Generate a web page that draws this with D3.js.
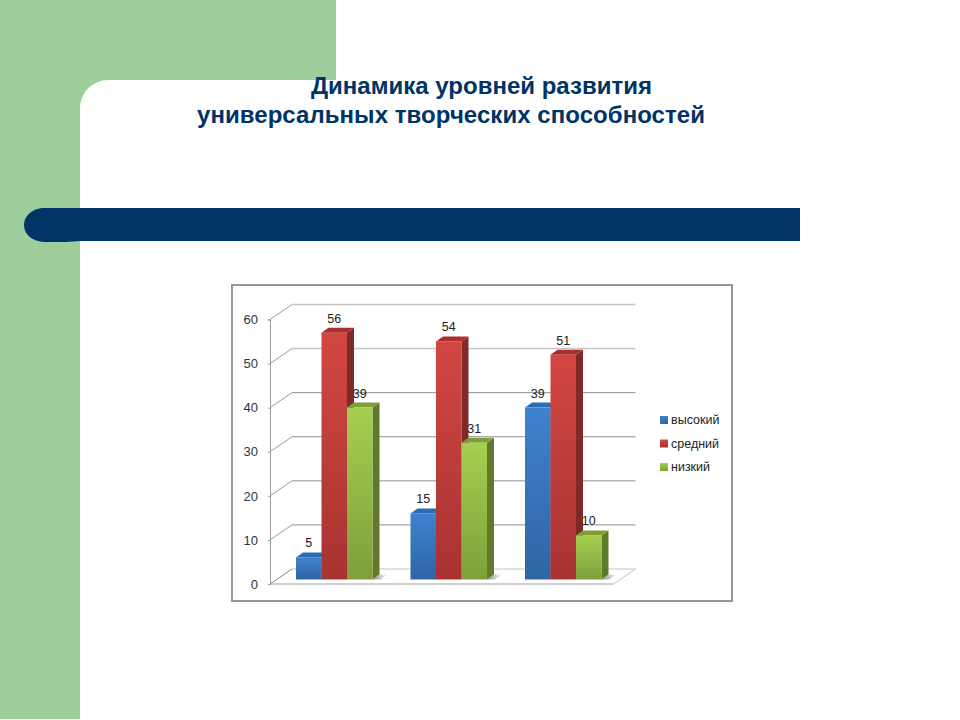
<!DOCTYPE html>
<html>
<head>
<meta charset="utf-8">
<script src="https://cdn.jsdelivr.net/npm/d3@7.9.0/dist/d3.min.js"></script>
<style>
    html, body { margin: 0; padding: 0; background: #fff; }
    svg { display: block; }
    text { font-family: "Liberation Sans", Arial, sans-serif; }
</style>
</head>
<body>
<svg id="slide" width="960" height="720"></svg>
<script>
const groups = ['g1', 'g2', 'g3'];
const seriesNames = ['высокий', 'средний', 'низкий'];
const high = [5, 15, 39];
const medium = [56, 54, 51];
const low = [39, 31, 10];
const yTicks = [0, 10, 20, 30, 40, 50, 60];
const titleLines = ['Динамика уровней развития', 'универсальных творческих способностей'];

const seriesValues = [high, medium, low];
const colors = [
    { top: '#3f82cf', bottom: '#2f65a3', side: '#24508a', cap: '#2c6cb5' },
    { top: '#d24643', bottom: '#a73331', side: '#7f2a28', cap: '#a92e2c' },
    { top: '#a5cf4f', bottom: '#7f9f3a', side: '#5f7a2c', cap: '#7f9f36' }
];

const svg = d3.select('#slide');
const defs = svg.append('defs');

// slide background
svg.append('rect').attr('x', 0).attr('y', 0).attr('width', 80).attr('height', 719).attr('fill', '#9dce9c');
svg.append('rect').attr('x', 0).attr('y', 0).attr('width', 336).attr('height', 80).attr('fill', '#9dce9c');
svg.append('path').attr('d', 'M80,80 H108 A28,28 0 0 0 80,108 Z').attr('fill', '#9dce9c');

svg.append('path')
    .attr('d', 'M800,208 H42 C32,209 24,216 24,225 C24,235 33,242 46,242 H66 L80,241 H800 Z')
    .attr('fill', '#003366');

// title
svg.selectAll('text.title')
    .data(titleLines)
    .join('text')
    .attr('class', 'title')
    .attr('x', (d, i) => i === 0 ? 311 : 197)
    .attr('y', (d, i) => i === 0 ? 94 : 123)
    .attr('textLength', (d, i) => i === 0 ? 341 : 508)
    .attr('font-size', 24)
    .attr('font-weight', 'bold')
    .attr('fill', '#003366')
    .text(d => d);

// chart frame
svg.append('rect')
    .attr('x', 232).attr('y', 285).attr('width', 500).attr('height', 316)
    .attr('fill', '#fff').attr('stroke', '#969696').attr('stroke-width', 2);

const y = d3.scaleLinear().domain([0, 60]).range([584, 319.5]);
const x0 = d3.scaleBand().domain(groups).range([270, 613.5]);
const x1 = d3.scaleBand().domain(seriesNames).range([0, 76.5]);
const groupOffset = 26;
const depth = { x: 22, y: -15 };
const barDepth = { x: 7, y: -5 };
const barDrop = -4.5;

// floor
const floor = svg.append('g');
floor.append('path')
    .attr('d', `M${x0.range()[0]},${y(0)} L${x0.range()[1]},${y(0)} L${x0.range()[1] + depth.x},${y(0) + depth.y} L${x0.range()[0] + depth.x},${y(0) + depth.y} Z`)
    .attr('fill', '#fff').attr('stroke', '#c4c4c4').attr('stroke-width', 1);
floor.append('line')
    .attr('x1', x0.range()[0]).attr('x2', x0.range()[1])
    .attr('y1', y(0)).attr('y2', y(0))
    .attr('stroke', '#cfcfcf').attr('stroke-width', 2);

// grid on the walls
const grid = svg.append('g').selectAll('g').data(yTicks).join('g');
grid.append('line')
    .attr('x1', x0.range()[0]).attr('y1', d => y(d))
    .attr('x2', x0.range()[0] + depth.x).attr('y2', d => y(d) + depth.y)
    .attr('stroke', '#9a9a9a');
grid.filter(d => d > 0).append('line')
    .attr('x1', x0.range()[0] + depth.x).attr('y1', d => y(d) + depth.y)
    .attr('x2', x0.range()[1] + depth.x).attr('y2', d => y(d) + depth.y)
    .attr('stroke', d => d >= 50 ? '#c4c4c4' : '#8f8f8f')
    .attr('stroke-width', d => d >= 50 ? 1.5 : 1);

// y axis
const yAxis = svg.append('g')
    .attr('transform', `translate(${x0.range()[0]},0)`)
    .call(d3.axisLeft(y).tickValues(yTicks).tickSize(2).tickPadding(10));
yAxis.select('.domain').attr('stroke', '#9a9a9a');
yAxis.selectAll('.tick line').attr('stroke', '#9a9a9a');
yAxis.selectAll('text')
    .attr('font-family', '"Liberation Sans", Arial, sans-serif')
    .attr('font-size', 13)
    .attr('fill', '#333');

// bars
seriesNames.forEach((name, s) => {
    const grad = defs.append('linearGradient')
        .attr('id', `bar-${s}`).attr('x1', 0).attr('x2', 0).attr('y1', 0).attr('y2', 1);
    grad.append('stop').attr('offset', '0%').attr('stop-color', colors[s].top);
    grad.append('stop').attr('offset', '100%').attr('stop-color', colors[s].bottom);
});
const shadowGrad = defs.append('linearGradient').attr('id', 'floor-shadow');
shadowGrad.append('stop').attr('offset', '0%').attr('stop-color', '#8a8a8a');
shadowGrad.append('stop').attr('offset', '100%').attr('stop-color', '#fff');

const barData = groups.flatMap((g, i) => seriesNames.map((name, s) => ({
    g, name, s, value: seriesValues[s][i]
})));
const barsSel = svg.append('g').selectAll('g')
    .data(barData)
    .join('g');

barsSel.each(function (d) {
    const g = d3.select(this);
    const left = x0(d.g) + groupOffset + x1(d.name);
    const w = x1.bandwidth();
    const top = y(d.value) + barDrop;
    const bottom = y(0) + barDrop;
    // shadow on the floor
    if (d.s === 2) {
        g.append('path')
            .attr('d', `M${left + w},${bottom} L${left + w + barDepth.x},${bottom + barDepth.y} L${left + w + barDepth.x + 8},${bottom + barDepth.y} L${left + w + 8},${bottom} Z`)
            .attr('fill', 'url(#floor-shadow)');
    }
    g.append('path')
        .attr('d', `M${left + w},${top} L${left + w + barDepth.x},${top + barDepth.y} L${left + w + barDepth.x},${bottom + barDepth.y} L${left + w},${bottom} Z`)
        .attr('fill', colors[d.s].side);
    g.append('path')
        .attr('d', `M${left},${top} L${left + barDepth.x},${top + barDepth.y} L${left + w + barDepth.x},${top + barDepth.y} L${left + w},${top} Z`)
        .attr('fill', colors[d.s].cap);
    g.append('rect')
        .attr('x', left).attr('y', top)
        .attr('width', w).attr('height', bottom - top)
        .attr('fill', `url(#bar-${d.s})`);
});

// value labels
svg.append('g').selectAll('text')
    .data(barData)
    .join('text')
    .attr('x', d => x0(d.g) + groupOffset + x1(d.name) + x1.bandwidth() / 2)
    .attr('y', d => y(d.value) + barDrop + barDepth.y - 5)
    .attr('text-anchor', 'middle')
    .attr('font-size', 12.5)
    .attr('fill', '#222')
    .text(d => d.value);

// legend
const legendY = d3.scalePoint().domain(seriesNames).range([420, 467]);
const legend = svg.append('g').selectAll('g').data(seriesNames).join('g')
    .attr('transform', d => `translate(660,${legendY(d)})`);
legend.append('rect')
    .attr('x', 0).attr('y', -4).attr('width', 8).attr('height', 8)
    .attr('fill', (d, i) => `url(#bar-${i})`);
legend.append('text')
    .attr('x', 11).attr('y', 4)
    .attr('font-size', 12.5)
    .attr('fill', '#222')
    .text(d => d);
</script>
</body>
</html>
